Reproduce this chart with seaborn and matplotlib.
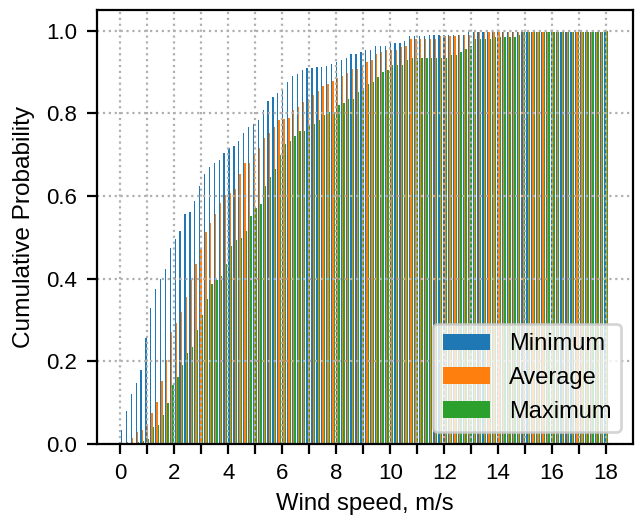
import numpy as np
import pandas as pd
import matplotlib
matplotlib.use("Agg")
import matplotlib.pyplot as plt
import seaborn as sns

# ---- data (cumulative probability per bin) ----
series_names = ["Minimum", "Average", "Maximum"]
series_colors = ["#1f77b4", "#ff7f0e", "#2ca02c"]
speed_min, speed_max, n_bins = 0.0, 18.1, 100

minimum = [0.034, 0.080, 0.122, 0.147, 0.179, 0.257, 0.328, 0.376, 0.400, 0.423,
           0.474, 0.495, 0.515, 0.556, 0.561, 0.588, 0.623, 0.654, 0.670, 0.681,
           0.686, 0.705, 0.715, 0.722, 0.732, 0.752, 0.768, 0.773, 0.783, 0.808,
           0.829, 0.840, 0.850, 0.860, 0.875, 0.890, 0.895, 0.905, 0.910, 0.910,
           0.912, 0.912, 0.915, 0.920, 0.925, 0.928, 0.933, 0.944, 0.944, 0.948,
           0.953, 0.953, 0.964, 0.964, 0.964, 0.969, 0.969, 0.969, 0.974, 0.986,
           0.986, 0.986, 0.986, 0.990, 0.990, 0.990, 0.990, 0.990, 0.990, 0.990,
           0.990, 0.996, 0.996, 0.996, 0.996, 0.996, 0.996, 0.996, 0.996, 0.996,
           0.996, 0.996, 0.996, 0.996, 0.996, 0.996, 0.996, 0.996, 0.996, 0.996,
           0.996, 0.996, 0.996, 0.996, 0.996, 0.996, 0.996, 0.996, 0.996, 1.000]

average = [0.003, 0.004, 0.014, 0.029, 0.034, 0.048, 0.076, 0.101, 0.153, 0.204,
           0.271, 0.293, 0.319, 0.356, 0.396, 0.436, 0.474, 0.514, 0.535, 0.556,
           0.582, 0.602, 0.607, 0.618, 0.654, 0.680, 0.680, 0.700, 0.716, 0.741,
           0.752, 0.768, 0.783, 0.787, 0.789, 0.808, 0.815, 0.827, 0.835, 0.845,
           0.855, 0.865, 0.870, 0.878, 0.885, 0.891, 0.897, 0.907, 0.907, 0.913,
           0.923, 0.928, 0.944, 0.949, 0.953, 0.953, 0.953, 0.960, 0.964, 0.980,
           0.980, 0.980, 0.980, 0.980, 0.980, 0.986, 0.986, 0.986, 0.986, 0.990,
           0.990, 0.990, 0.996, 0.996, 0.996, 0.996, 0.996, 0.996, 0.996, 0.996,
           0.996, 0.996, 0.996, 0.996, 0.996, 0.996, 0.996, 0.996, 0.996, 0.996,
           0.996, 0.996, 0.996, 0.996, 0.996, 0.996, 0.996, 0.996, 0.996, 1.000]

maximum = [0.001, 0.002, 0.003, 0.006, 0.008, 0.013, 0.040, 0.045, 0.070, 0.100,
           0.142, 0.163, 0.190, 0.220, 0.235, 0.277, 0.313, 0.350, 0.386, 0.396,
           0.406, 0.436, 0.478, 0.494, 0.499, 0.515, 0.551, 0.572, 0.581, 0.623,
           0.647, 0.665, 0.700, 0.726, 0.733, 0.746, 0.758, 0.758, 0.773, 0.773,
           0.783, 0.795, 0.803, 0.803, 0.819, 0.825, 0.835, 0.835, 0.851, 0.861,
           0.871, 0.877, 0.887, 0.899, 0.905, 0.918, 0.918, 0.918, 0.928, 0.933,
           0.933, 0.933, 0.933, 0.933, 0.933, 0.933, 0.933, 0.940, 0.940, 0.949,
           0.956, 0.964, 0.979, 0.979, 0.979, 0.979, 0.984, 0.984, 0.984, 0.984,
           0.984, 0.990, 0.996, 0.996, 0.996, 0.996, 0.996, 0.996, 0.996, 0.996,
           0.996, 0.996, 0.996, 0.996, 0.996, 0.996, 0.996, 0.996, 0.996, 1.000]

x_tick_values = list(range(0, 19))
x_tick_labels = [str(v) if v % 2 == 0 else "" for v in x_tick_values]

# ---- build table ----
edges = np.linspace(speed_min, speed_max, n_bins + 1)
centers = (edges[:-1] + edges[1:]) / 2
frames = []
for name, vals in zip(series_names, [minimum, average, maximum]):
    frames.append(pd.DataFrame({"speed": centers, "prob": vals, "series": name}))
df = pd.concat(frames, ignore_index=True)

plt.rcParams["font.family"] = ["Liberation Sans", "DejaVu Sans"]
plt.rcParams["font.size"] = 8

fig = plt.figure(figsize=(637 / 200, 517 / 200), dpi=200)
ax = fig.add_axes([96.5 / 637, 1 - 444 / 517, (632.7 - 96.5) / 637, (444 - 10) / 517])

sns.histplot(data=df, x="speed", weights="prob", hue="series",
             hue_order=series_names, palette=series_colors,
             bins=edges.tolist(), multiple="dodge", shrink=0.8, stat="count",
             alpha=1, linewidth=0, edgecolor="none", ax=ax)

ax.set_xticks(x_tick_values)
ax.set_xticklabels(x_tick_labels)
ax.tick_params(labelsize=8)
ax.set_xlabel("Wind speed, m/s", fontsize=8.6, labelpad=3)
ax.set_ylabel("Cumulative Probability", fontsize=8.8, labelpad=4)
ax.grid(True, linestyle=":")
ax.set_axisbelow("line")

sns.move_legend(ax, "lower right", title=None, fontsize=8.5, frameon=True)

fig.savefig("out.png", dpi=200)
